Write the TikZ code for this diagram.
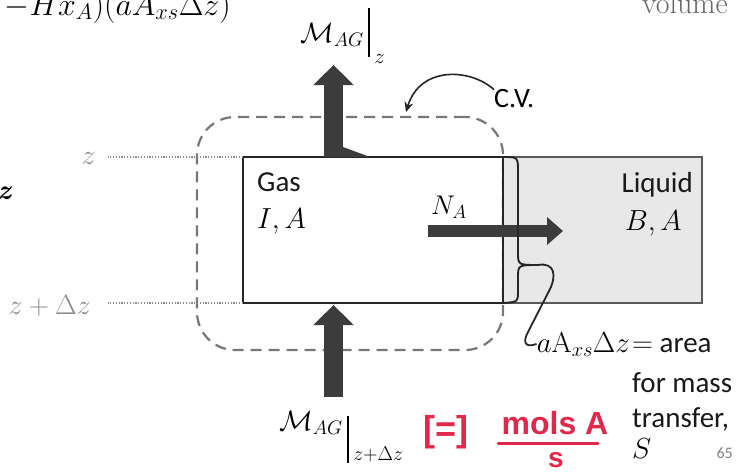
\RequirePackage{fix-cm}
\documentclass[tikz,border=0pt]{standalone}
\usepackage{amsmath}
\usepackage{fontspec}
\newfontfamily\carlito{Carlito}
\newfontfamily\redfont{Liberation Sans}
\usetikzlibrary{arrows.meta}
\definecolor{arrowgray}{HTML}{3C3C3C}
\definecolor{cvgray}{HTML}{777777}
\definecolor{labgray}{HTML}{8A8A8A}
\definecolor{liqfill}{HTML}{E8E8E8}
\definecolor{inkred}{HTML}{E0284A}
\begin{document}
\begin{tikzpicture}[x=1pt,y=-1pt,
  sanslbl/.style={font=\carlito\fontsize{29}{35}\selectfont, inner sep=0pt, text=black!90},
  mathlbl/.style={font=\fontsize{29}{34}\selectfont, inner sep=0pt, text=black},
  sublbl/.style={font=\fontsize{21}{25}\selectfont, inner sep=0pt, text=black},
  graylbl/.style={font=\fontsize{28}{34}\selectfont, inner sep=0pt, text=labgray},
  boxline/.style={line width=1.8pt, inner sep=0pt, outer sep=0pt},
  cvline/.style={draw=cvgray, line width=2.2pt, dash pattern=on 11pt off 7pt},
  dotline/.style={draw=labgray, line width=1.2pt, dash pattern=on 1.2pt off 1.6pt},
  evalbar/.style={draw=black, line width=1.6pt},
  blockarrow/.style={draw=arrowgray, line width=19pt, -{Triangle[length=20pt,width=39pt]}},
  redink/.style={text=inkred, inner sep=0pt, font=\redfont\bfseries\fontsize{30}{34}\selectfont},
]
\useasboundingbox (0,0) rectangle (739,474);

% top partial texts
\node[font=\fontsize{32}{38}\selectfont, inner sep=0pt, anchor=base east, text=black] (topmath) at (231,15) {$-Hx_A)(aA_{xs}\Delta z)$};
\node[font=\fontsize{30}{36}\selectfont, inner sep=0pt, anchor=base east, text=black!60] (vol) at (728,13) {volume};
\node[font=\bfseries\itshape\fontsize{28}{34}\selectfont, inner sep=0pt, anchor=base east, text=black] (boldz) at (11,199) {z};

% control volume
\node[cvline, minimum width=306pt, minimum height=233pt, rounded corners=38pt, inner sep=0pt] (cvbox) at (350,233.5) {};

% boxes
\node[boxline, draw=black!65, fill=liqfill, line width=1.5pt, minimum width=199pt, minimum height=146pt] (liq) at (602.5,230) {};
\node[boxline, draw=black!85, minimum width=260pt, minimum height=146pt] (gas) at (373,230) {};

% level labels and dotted lines
\node[graylbl] (zlab) at (88.5,158) {$z$};
\node[graylbl, anchor=east] (zdzlab) at (91,306) {$z+\Delta z$};
\draw[dotline] (gas.north west) -- ++(-135,0);
\draw[dotline] (gas.south west) -- ++(-135,0);

% texts in boxes
\node[sanslbl, anchor=base west] (gastxt) at (257,191) {Gas};
\node[mathlbl, anchor=base west] (gascomp) at (257,228) {$I,A$};
\node[sanslbl, anchor=base east] (liqtxt) at (693,192) {Liquid};
\node[mathlbl, anchor=base east] (liqcomp) at (682,230) {$B,A$};
\node[mathlbl, font=\fontsize{27}{30}\selectfont, anchor=base west] (natxt) at (431,214) {$N_A$};

% block arrows
\coordinate (topfoot) at (333.5,157);
\coordinate (toptip) at (333.5,65);
\coordinate (botfoot) at (333.5,397);
\coordinate (bottip) at (333.5,305);
\coordinate (nastart) at (428,231);
\coordinate (natip) at (563,231);
\fill[arrowgray] (324,157) -- (370,157) -- (343,147) -- cycle;
\draw[blockarrow] (topfoot) -- (toptip);
\draw[blockarrow] (botfoot) -- (bottip);
\draw[draw=arrowgray, line width=12pt, -{Triangle[length=16pt,width=27pt]}] (nastart) -- (natip);

% flow labels (evaluated at z and z + dz)
\node[mathlbl, font=\fontsize{28}{34}\selectfont, anchor=base west] (mtop) at (300,42) {$\mathcal{M}_{AG}$};
\draw[evalbar] ([xshift=5pt]mtop.east |- 0,8) coordinate (bartop1) -- ([xshift=5pt]mtop.east |- 0,57) coordinate (barbot1);
\node[sublbl, anchor=base west] (mtopsub) at ([xshift=5pt]barbot1 |- 0,63) {$z$};

\node[mathlbl, font=\fontsize{28}{34}\selectfont, anchor=base west] (mbot) at (279,430) {$\mathcal{M}_{AG}$};
\draw[evalbar] ([xshift=5pt]mbot.east |- 0,416) coordinate (bartop2) -- ([xshift=5pt]mbot.east |- 0,463) coordinate (barbot2);
\node[sublbl, font=\fontsize{20}{24}\selectfont, anchor=base west] (mbotsub) at ([xshift=5pt]barbot2 |- 0,460) {$z{+}\Delta z$};

% C.V. label and arrow
\node[font=\carlito\fontsize{28}{32}\selectfont, inner sep=0pt, anchor=west] (cv) at (494,99) {C.V.};
\coordinate (cvtgt) at (406,112);
\draw[line width=1.6pt, black!85, -{Stealth[length=10pt,width=9pt]}] (cv.north west) .. controls (470,68) and (420,66) .. (cvtgt);

% brace on interface
\coordinate (btip) at (538,265);
\draw[line width=1.9pt, black!85] (gas.north east) .. controls (518,157) .. (518,172) -- (518,252) .. controls (518,265) .. (btip)
  .. controls (518,265) .. (518,278) -- (518,290) .. controls (518,302) .. (gas.south east);

% area label
\node[mathlbl, anchor=base east] (amath) at (630,352) {$a\mathrm{A}_{xs}\Delta z$};
\node[sanslbl, anchor=base west] (area1) at (632,352) {$=$ area};
\node[sanslbl, anchor=base west] (area2) at (632,392) {for mass};
\node[sanslbl, anchor=base west] (area3) at (632,427) {transfer,};
\node[mathlbl, anchor=base west] (area4) at (632,458) {$S$};
\node[font=\carlito\fontsize{16}{19}\selectfont, inner sep=0pt, anchor=base east, text=black!50] (pnum) at (733,458) {65};
\draw[line width=1.8pt, black!85] (btip) .. controls (555,262) and (557,276) .. (549,291) -- (528,332) .. controls (522,343) and (526,348) .. (amath.west);

% red handwriting
\node[redink, font=\redfont\bfseries\fontsize{36}{40}\selectfont] (unitsym) at (446,432) {[=]};
\node[redink, font=\redfont\bfseries\fontsize{32}{36}\selectfont] (molsA) at (555,423) {mols A};
\node[redink, font=\redfont\bfseries\fontsize{28}{32}\selectfont] (sec) at (556,460) {s};
\coordinate (fracL) at (498,443);
\coordinate (fracR) at (598,443);
\draw[inkred, line width=3pt, line cap=round] (fracL) -- (fracR);
\end{tikzpicture}
\end{document}
